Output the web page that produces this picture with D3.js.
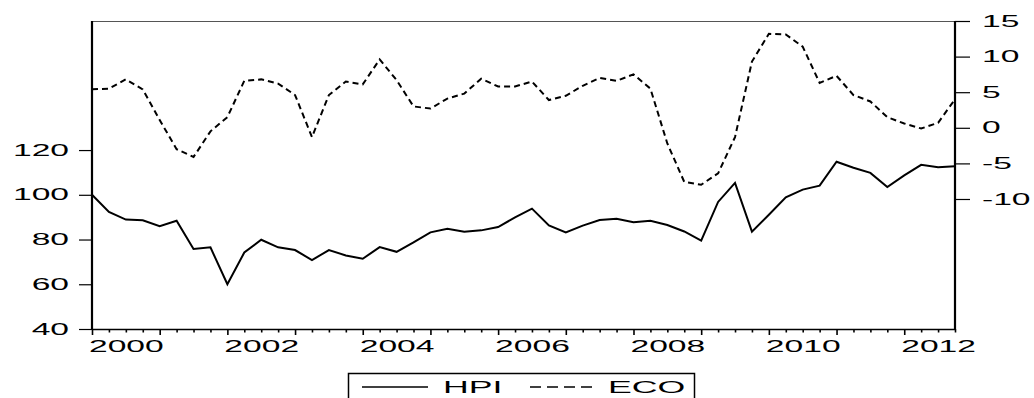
<!DOCTYPE html>
<html>
<head>
<meta charset="utf-8">
<script src="https://cdn.jsdelivr.net/npm/d3@7"></script>
<style>
  body { margin: 0; background: #fff; }
  text { font-family: "Liberation Sans", Arial, sans-serif; }
</style>
</head>
<body>
<div id="chart"></div>
<script>
// quarterly, 2000Q1 .. 2012Q4
let startYear = 2000
let quarters = d3.range(52).map(i => startYear + i / 4)

let hpi = [100.0, 92.3, 88.9, 88.6, 86.0, 88.4, 75.8, 76.5, 60.0, 74.2, 79.9, 76.5,
           75.3, 70.8, 75.3, 72.9, 71.4, 76.6, 74.5, 78.7, 83.2, 84.8, 83.5, 84.1,
           85.6, 89.9, 93.8, 86.3, 83.2, 86.2, 88.7, 89.3, 87.7, 88.4, 86.5, 83.6,
           79.5, 96.8, 105.3, 83.5, 91.1, 98.9, 102.3, 104.1, 114.8, 112.1, 109.8, 103.5,
           108.7, 113.4, 112.3, 112.8]

let eco = [5.4, 5.5, 6.8, 5.4, 1.1, -3.0, -4.1, -0.5, 1.5, 6.6, 6.8, 6.2,
           4.6, -1.3, 4.6, 6.5, 6.1, 9.6, 6.7, 3.0, 2.7, 4.1, 4.8, 6.9,
           5.8, 5.8, 6.5, 3.9, 4.5, 5.9, 7.0, 6.6, 7.5, 5.5, -2.2, -7.6,
           -8.0, -6.4, -1.3, 9.3, 13.2, 13.1, 11.4, 6.3, 7.3, 4.6, 3.7, 1.5,
           0.6, -0.1, 0.7, 4.0]

let leftTicks = [40, 60, 80, 100, 120]
let rightTicks = [-10, -5, 0, 5, 10, 15]
let yearLabels = [2000, 2002, 2004, 2006, 2008, 2010, 2012]
let seriesNames = ["HPI", "ECO"]

let width = 1034
let height = 398
let plotL = 92, plotR = 955, plotT = 21, plotB = 329
let sx = 2.1 // wide, stretched lettering

let svg = d3.select("#chart").append("svg")
  .attr("width", width)
  .attr("height", height)

let x = d3.scaleLinear().domain([2000, 2012.75]).range([plotL, plotR])
let yL = d3.scaleLinear().domain([40, 177.7]).range([plotB, plotT])
let yR = d3.scaleLinear().domain([-28.26, 15]).range([plotB, plotT])

// plain hyphen for negatives, like the original
let fmt = d => String(d)

// frame top
svg.append("line")
  .attr("x1", plotL).attr("x2", plotR)
  .attr("y1", plotT + 0.5).attr("y2", plotT + 0.5)
  .attr("stroke", "#555").attr("stroke-width", 1.2)

// bottom axis, a tick each quarter, longer on years
let xAxis = svg.append("g")
  .attr("transform", "translate(0," + plotB + ")")
  .call(d3.axisBottom(x).tickValues(quarters).tickSize(3).tickSizeOuter(0).tickFormat(""))
xAxis.select(".domain").attr("stroke-width", 1.6)
xAxis.selectAll(".tick line")
  .attr("stroke-width", 1.6)
  .attr("y2", d => (Math.abs(d - Math.round(d)) < 1e-6) ? 6 : 3.5)

// year labels, centered in their year
let xLab = svg.append("g")
  .attr("transform", "translate(0," + plotB + ")")
  .call(d3.axisBottom(x).tickValues(yearLabels.map(d => d + 0.5)).tickSize(0).tickPadding(12).tickFormat(d => Math.floor(d)))
xLab.select(".domain").remove()
xLab.selectAll("text")
  .attr("font-size", 16)
  .attr("fill", "#000")
  .attr("transform", "scale(" + sx + ",1)")
  .attr("x", 0)

// left axis
let yAxisL = svg.append("g")
  .attr("transform", "translate(" + plotL + ",0)")
  .call(d3.axisLeft(yL).tickValues(leftTicks).tickSize(13).tickSizeOuter(0).tickFormat(fmt))
yAxisL.select(".domain").attr("d", "M0," + plotT + "V" + plotB).attr("stroke-width", 2.2)
yAxisL.selectAll(".tick line").attr("stroke-width", 1.2)
yAxisL.selectAll("text")
  .attr("font-size", 16)
  .attr("fill", "#000")
  .attr("x", 0)
  .attr("transform", "translate(-23,0) scale(" + sx + ",1)")

// right axis
let yAxisR = svg.append("g")
  .attr("transform", "translate(" + plotR + ",0)")
  .call(d3.axisRight(yR).tickValues(rightTicks).tickSize(15).tickSizeOuter(0).tickFormat(fmt))
yAxisR.select(".domain").attr("d", "M0," + plotT + "V" + plotB).attr("stroke-width", 2.2)
yAxisR.selectAll(".tick line").attr("stroke-width", 1.2)
yAxisR.selectAll("text")
  .attr("font-size", 16)
  .attr("fill", "#000")
  .attr("x", 0)
  .attr("transform", "translate(27,0) scale(" + sx + ",1)")

// series
let hpiLine = d3.line().x((d, i) => x(quarters[i])).y(d => yL(d))
let ecoLine = d3.line().x((d, i) => x(quarters[i])).y(d => yR(d))

svg.append("path")
  .datum(hpi)
  .attr("d", hpiLine)
  .attr("fill", "none")
  .attr("stroke", "#000")
  .attr("stroke-width", 2)

svg.append("path")
  .datum(eco)
  .attr("d", ecoLine)
  .attr("fill", "none")
  .attr("stroke", "#000")
  .attr("stroke-width", 2)
  .attr("stroke-dasharray", "6,4")

// legend
let legend = svg.append("g")
legend.append("rect")
  .attr("x", 348.5).attr("y", 373.5)
  .attr("width", 346).attr("height", 40)
  .attr("fill", "none").attr("stroke", "#000").attr("stroke-width", 1.5)

let legendItems = [
  { name: seriesNames[0], x1: 362, x2: 428, tx: 443, dash: null },
  { name: seriesNames[1], x1: 530, x2: 593, tx: 608, dash: "11,6" }
]
legendItems.forEach(function(it) {
  legend.append("line")
    .attr("x1", it.x1).attr("x2", it.x2)
    .attr("y1", 387).attr("y2", 387)
    .attr("stroke", "#000").attr("stroke-width", 1.5)
    .attr("stroke-dasharray", it.dash)
  legend.append("text")
    .attr("transform", "translate(" + it.tx + ",393) scale(" + sx + ",1)")
    .attr("font-size", 17)
    .text(it.name)
})
</script>
</body>
</html>
